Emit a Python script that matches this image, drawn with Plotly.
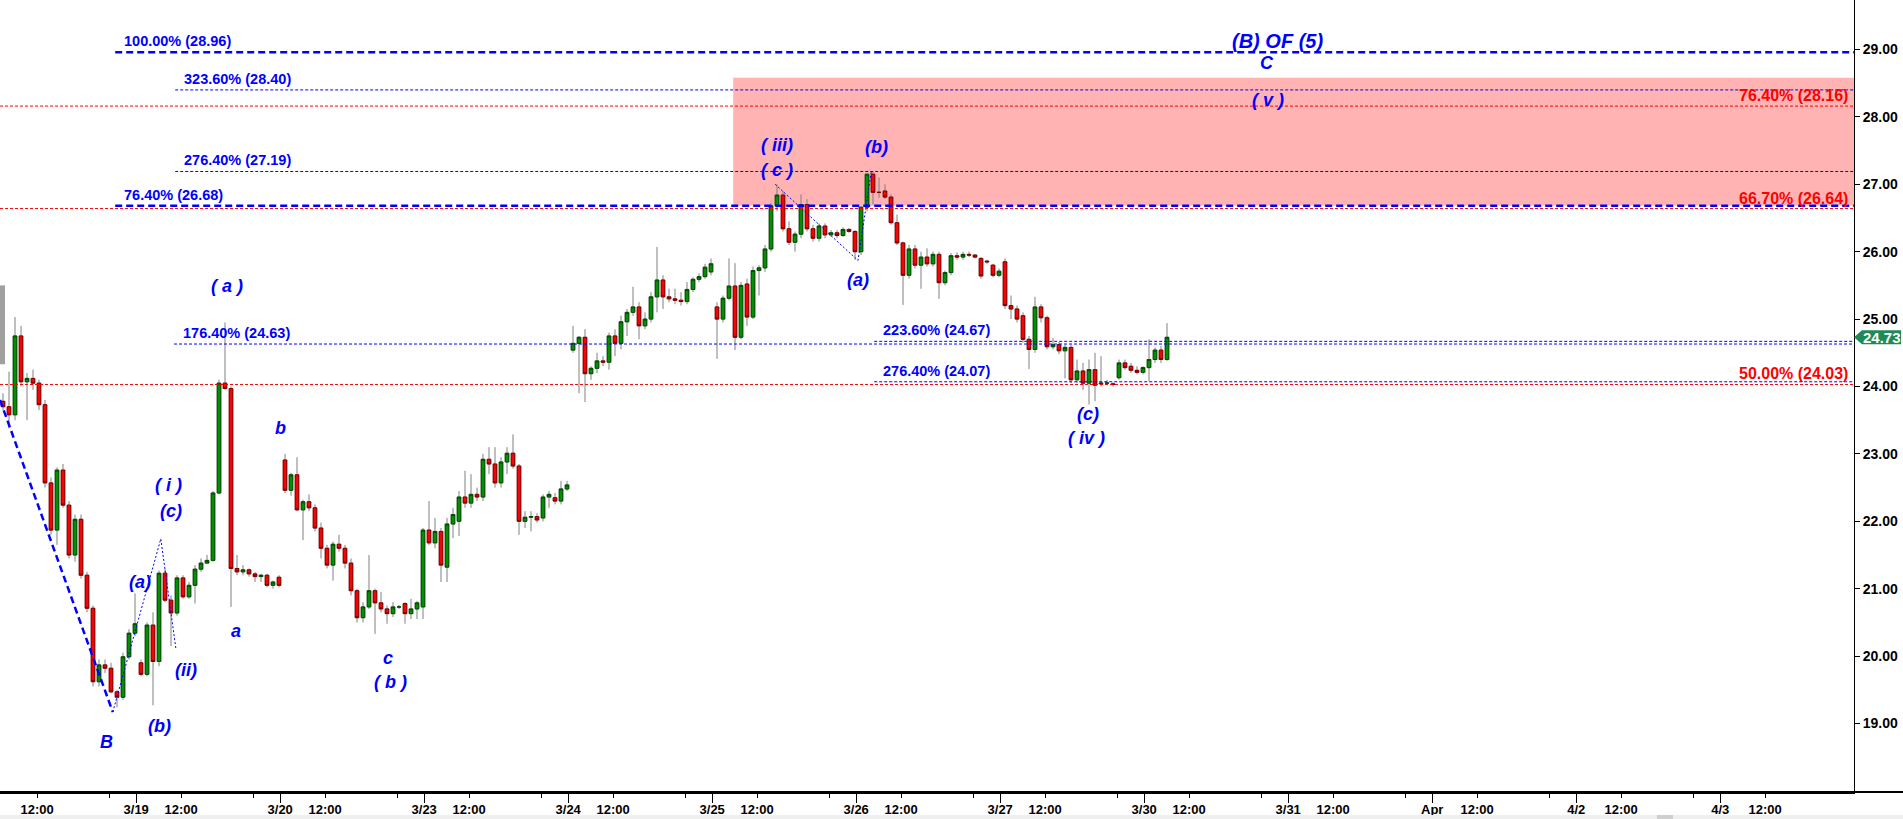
import plotly.graph_objects as go

# ---------------- data (bar index: 24 bars per trading day) ----------------
bar_open = [23.78, 23.70, 23.58, 24.75, 24.07, 24.12, 24.05, 23.73, 22.57, 21.87,
            22.76, 22.24, 21.50, 22.03, 21.20, 20.71, 19.62, 19.87, 19.82, 19.47,
            19.39, 19.99, 20.34, 19.90, 19.73, 20.46, 19.92, 21.23, 20.83, 20.64,
            21.16, 20.88, 21.05, 21.29, 21.38, 21.42, 22.42, 24.05, 23.97, 21.30,
            21.25, 21.28, 21.22, 21.18, 21.20, 21.05, 21.17,
            22.91, 22.46, 22.69, 22.17, 22.29, 22.20, 21.90, 21.60, 21.35, 21.66,
            21.60, 21.38, 20.97, 20.57, 20.73, 20.97, 20.79, 20.70, 20.63, 20.73,
            20.78, 20.63, 20.70, 20.73, 21.87, 21.68, 21.85, 21.32, 21.96, 22.00,
            22.36, 22.27, 22.40, 22.36, 22.92, 22.85, 22.57, 22.88, 23.01, 22.82,
            22.00, 22.06, 22.07, 22.05, 22.36, 22.35, 22.30, 22.48,
            24.54, 24.64, 24.73, 24.19, 24.27, 24.38, 24.36, 24.75, 24.64, 24.96,
            25.10, 25.18, 24.90, 25.00, 25.33, 25.58, 25.33, 25.30, 25.28, 25.26,
            25.44, 25.59, 25.63, 25.70,
            25.18, 25.00, 25.31, 25.49, 24.73, 25.52, 25.03, 25.72, 25.76, 26.04,
            26.68, 26.84, 26.34, 26.14, 26.26, 26.70, 26.34, 26.20, 26.38, 26.25,
            26.28, 26.24, 26.33, 26.30,
            26.00, 26.66, 27.15, 26.88, 26.90, 26.81, 26.43, 26.13, 25.65, 26.04,
            25.80, 25.92, 25.82, 25.96, 25.54, 25.69, 25.94, 25.92, 25.96, 25.95,
            25.90, 25.86, 25.80, 25.65,
            25.85, 25.20, 25.15, 25.05, 24.70, 24.55, 25.18, 25.02, 24.59, 24.62,
            24.53, 24.58, 24.10, 24.23, 24.05, 24.25, 24.04, 24.05, 24.04, 24.13,
            24.35, 24.30, 24.24, 24.21, 24.28, 24.40, 24.54, 24.40]
bar_high = [23.90, 24.22, 25.03, 24.90, 24.20, 24.25, 24.10, 23.80, 22.65, 22.80,
            22.85, 22.30, 22.10, 22.10, 21.25, 20.75, 19.95, 19.95, 19.90, 19.50,
            20.05, 20.40, 20.93, 19.95, 20.50, 20.65, 21.27, 21.30, 20.90, 21.20,
            21.20, 21.10, 21.35, 21.45, 21.50, 22.45, 24.10, 24.95, 24.00, 21.50,
            21.35, 21.30, 21.25, 21.22, 21.22, 21.12, 21.20,
            23.00, 22.72, 22.95, 22.32, 22.40, 22.25, 21.98, 21.65, 21.70, 21.80,
            21.65, 21.45, 21.00, 20.80, 21.50, 21.00, 20.95, 20.75, 20.80, 20.76,
            20.80, 20.85, 20.82, 21.90, 22.30, 22.05, 21.90, 22.05, 22.20, 22.45,
            22.75, 22.70, 22.50, 23.00, 23.10, 23.10, 22.95, 23.10, 23.29, 22.85,
            22.15, 22.15, 22.12, 22.40, 22.45, 22.42, 22.60, 22.60,
            24.90, 24.75, 24.85, 24.30, 24.50, 24.45, 24.80, 24.85, 25.05, 25.15,
            25.48, 25.25, 25.10, 25.40, 26.07, 25.65, 25.45, 25.45, 25.40, 25.55,
            25.62, 25.68, 25.82, 25.90,
            25.25, 25.35, 25.90, 25.83, 25.55, 25.60, 25.78, 25.80, 26.10, 26.72,
            27.00, 26.90, 26.45, 26.30, 26.85, 26.78, 26.40, 26.42, 26.42, 26.32,
            26.32, 26.36, 26.35, 26.32,
            26.68, 27.15, 27.19, 27.10, 27.00, 26.85, 26.55, 26.15, 26.10, 26.10,
            26.00, 26.05, 26.00, 26.00, 25.72, 25.98, 25.99, 26.00, 26.00, 25.96,
            25.92, 25.88, 25.82, 25.75,
            25.90, 25.35, 25.20, 25.10, 24.75, 25.33, 25.22, 25.05, 24.72, 24.66,
            24.62, 24.62, 24.40, 24.35, 24.40, 24.50, 24.45, 24.10, 24.06, 24.40,
            24.40, 24.35, 24.30, 24.30, 24.70, 24.58, 24.60, 24.94]
bar_low = [23.65, 23.38, 23.50, 24.00, 23.50, 23.95, 23.65, 22.50, 21.80, 21.65,
           22.20, 21.45, 21.40, 21.15, 20.65, 19.55, 19.55, 19.75, 19.45, 19.24,
           19.35, 19.95, 20.30, 19.70, 19.70, 19.27, 19.85, 20.80, 20.15, 20.60,
           20.85, 20.85, 20.78, 21.25, 21.38, 21.40, 22.40, 23.95, 20.73, 21.20,
           21.20, 21.18, 21.10, 21.10, 21.02, 21.00, 21.02,
           22.42, 22.38, 22.15, 21.72, 22.15, 21.85, 21.45, 21.30, 21.12, 21.55,
           21.30, 20.90, 20.50, 20.50, 20.70, 20.33, 20.65, 20.48, 20.58, 20.70,
           20.48, 20.55, 20.55, 20.55, 21.65, 21.60, 21.10, 21.10, 21.75, 21.78,
           22.20, 22.20, 22.30, 22.30, 22.70, 22.50, 22.50, 22.70, 22.78, 21.80,
           21.90, 21.85, 21.98, 22.00, 22.20, 22.25, 22.25, 22.45,
           24.50, 23.90, 23.77, 24.10, 24.20, 24.30, 24.25, 24.45, 24.55, 24.75,
           25.05, 24.70, 24.85, 24.95, 25.10, 25.15, 25.25, 25.22, 25.20, 25.22,
           25.40, 25.55, 25.60, 25.65,
           24.41, 24.95, 25.28, 24.54, 24.70, 24.90, 25.00, 25.35, 25.70, 26.00,
           26.60, 26.30, 26.10, 26.00, 26.20, 26.30, 26.15, 26.15, 26.20, 26.22,
           26.20, 26.22, 26.28, 25.88,
           25.95, 26.60, 26.70, 26.80, 26.78, 26.40, 26.10, 25.21, 25.60, 25.75,
           25.45, 25.78, 25.78, 25.30, 25.50, 25.65, 25.88, 25.88, 25.92, 25.90,
           25.60, 25.82, 25.62, 25.62,
           25.15, 25.00, 24.95, 24.65, 24.26, 24.50, 24.95, 24.55, 24.55, 24.48,
           24.12, 24.05, 24.05, 23.95, 23.73, 23.78, 24.00, 24.02, 24.00, 24.10,
           24.25, 24.20, 24.18, 24.18, 24.08, 24.35, 24.35, 24.38]
bar_close = [23.70, 23.58, 24.75, 24.07, 24.12, 24.05, 23.73, 22.57, 21.87, 22.76,
             22.24, 21.50, 22.03, 21.20, 20.71, 19.62, 19.87, 19.82, 19.47, 19.39,
             19.99, 20.34, 20.48, 19.73, 20.46, 19.92, 21.23, 20.83, 20.64, 21.16,
             20.88, 21.05, 21.29, 21.38, 21.42, 22.42, 24.05, 23.97, 21.30, 21.25,
             21.28, 21.22, 21.18, 21.20, 21.05, 21.10, 21.05,
             22.46, 22.69, 22.17, 22.29, 22.20, 21.90, 21.60, 21.35, 21.66, 21.60,
             21.38, 20.97, 20.57, 20.73, 20.97, 20.79, 20.70, 20.63, 20.73, 20.73,
             20.63, 20.70, 20.79, 21.87, 21.68, 21.85, 21.35, 21.96, 22.10, 22.36,
             22.27, 22.40, 22.36, 22.92, 22.85, 22.57, 22.88, 23.01, 22.82, 22.00,
             22.06, 22.07, 22.02, 22.36, 22.40, 22.30, 22.48, 22.54,
             24.64, 24.73, 24.19, 24.27, 24.38, 24.36, 24.75, 24.64, 24.96, 25.10,
             25.18, 24.90, 25.00, 25.33, 25.58, 25.33, 25.30, 25.28, 25.26, 25.44,
             25.59, 25.63, 25.77, 25.82,
             25.00, 25.31, 25.49, 24.73, 25.50, 25.03, 25.72, 25.76, 26.04, 26.68,
             26.84, 26.34, 26.14, 26.26, 26.70, 26.34, 26.20, 26.38, 26.25, 26.28,
             26.24, 26.33, 26.30, 26.00,
             26.66, 27.15, 26.88, 26.88, 26.81, 26.43, 26.13, 25.65, 26.04, 25.80,
             25.92, 25.82, 25.96, 25.54, 25.69, 25.94, 25.92, 25.96, 25.95, 25.92,
             25.64, 25.85, 25.65, 25.71,
             25.20, 25.15, 25.00, 24.70, 24.55, 25.18, 25.02, 24.59, 24.62, 24.53,
             24.58, 24.10, 24.23, 24.05, 24.25, 24.02, 24.05, 24.05, 24.03, 24.35,
             24.28, 24.24, 24.21, 24.28, 24.40, 24.54, 24.40, 24.73]
bar_x = list(range(len(bar_close)))

# x-axis tick labels (positions in bar units)
label_ticks = [5.7, 22.2, 29.7, 46.2, 53.7, 70.2, 77.7, 94.2, 101.7, 118.2, 125.7,
               142.2, 149.7, 166.2, 173.7, 190.2, 197.7, 214.2, 221.7, 238.2, 245.7,
               262.2, 269.7, 286.2, 293.7]
label_text = ["12:00", "3/19", "12:00", "3/20", "12:00", "3/23", "12:00", "3/24", "12:00",
              "3/25", "12:00", "3/26", "12:00", "3/27", "12:00", "3/30", "12:00", "3/31",
              "12:00", "Apr", "12:00", "4/2", "12:00", "4/3", "12:00"]
session_ticks = [17.75, 41.75, 65.75, 89.75, 113.75, 137.75, 161.75, 185.75, 209.75,
                 233.75, 257.75, 281.75]
day_ticks = [22.2, 46.2, 70.2, 94.2, 118.2, 142.2, 166.2, 190.2, 214.2, 238.2, 262.2, 286.2]
price_ticks = [19, 20, 21, 22, 23, 24, 25, 26, 27, 28, 29]

# Fibonacci levels
blue_levels = [28.96, 28.40, 27.19, 26.68, 24.63, 24.67, 24.07]
blue_labels = ["100.00% (28.96)", "323.60% (28.40)", "276.40% (27.19)", "76.40% (26.68)",
               "176.40% (24.63)", "223.60% (24.67)", "276.40% (24.07)"]
blue_start = [18.7, 28.7, 28.7, 18.7, 28.5, 145.2, 145.2]
blue_heavy = [True, False, False, True, False, False, False]
red_levels = [28.16, 26.64, 24.03]
red_labels = ["76.40% (28.16)", "66.70% (26.64)", "50.00% (24.03)"]
zone_start, zone_low, zone_high = 121.7, 26.68, 28.58

# Elliott wave labels
wave_text = ["( a )", "b", "( i )", "(c)", "(a)", "(ii)", "a", "(b)", "B", "c", "( b )",
             "( iii)", "( c )", "(b)", "(a)", "(c)", "( iv )", "(B) OF (5)", "C", "( v )"]
wave_x = [37.3, 46.3, 27.5, 28.0, 22.8, 30.5, 38.8, 26.0, 17.3, 64.2, 64.5,
          129.0, 129.0, 145.5, 142.5, 180.8, 180.5, 212.4, 210.7, 210.8]
wave_y = [25.49, 23.38, 22.54, 22.15, 21.10, 19.79, 20.37, 18.97, 18.72, 19.97, 19.62,
          27.58, 27.21, 27.55, 25.58, 23.59, 23.24, 29.13, 28.80, 28.25]

# wave count lines
wave_b_x, wave_b_y = [-0.5, 18.3], [23.80, 19.17]
wave_i_x, wave_i_y = [18.3, 26.3, 28.8], [19.17, 21.74, 20.12]
wave_iv_x, wave_iv_y = [128.7, 142.5, 144.7], [27.00, 25.87, 27.18]

# ---------------- figure ----------------
X_MIN, X_MAX = -0.5, 308.5
Y_MIN, Y_MAX = 17.984, 29.734
BLUE, RED = "#0000ff", "#ff0000"
FONT = "Liberation Sans, Arial, sans-serif"

fig = go.Figure()

# wicks (grey)
fig.add_trace(go.Candlestick(
    x=bar_x, open=bar_open, high=bar_high, low=bar_low, close=bar_close,
    increasing=dict(line=dict(color="#808080", width=1), fillcolor="#808080"),
    decreasing=dict(line=dict(color="#808080", width=1), fillcolor="#808080"),
    whiskerwidth=0, hoverinfo="skip", showlegend=False))
# bodies
body_hi = [max(o, c) for o, c in zip(bar_open, bar_close)]
body_lo = [min(o, c) for o, c in zip(bar_open, bar_close)]
fig.add_trace(go.Candlestick(
    x=bar_x, open=bar_open, high=body_hi, low=body_lo, close=bar_close,
    increasing=dict(line=dict(color="#004d00", width=1), fillcolor="#009000"),
    decreasing=dict(line=dict(color="#800000", width=1), fillcolor="#ff0000"),
    whiskerwidth=0, hoverinfo="skip", showlegend=False))

# wave lines
fig.add_trace(go.Scatter(x=wave_b_x, y=wave_b_y, mode="lines", hoverinfo="skip",
                         line=dict(color=BLUE, width=2.5, dash="7px,4px"), showlegend=False))
for xs, ys in [(wave_i_x, wave_i_y), (wave_iv_x, wave_iv_y)]:
    fig.add_trace(go.Scatter(x=xs, y=ys, mode="lines", hoverinfo="skip",
                             line=dict(color=BLUE, width=1, dash="2px,2px"), showlegend=False))

shapes = []
# pink zone
shapes.append(dict(type="rect", xref="x", yref="y", x0=zone_start, x1=X_MAX,
                   y0=zone_low, y1=zone_high, fillcolor="#ffb3b3", line=dict(width=0),
                   layer="below"))
annotations = []
for lvl, txt in zip(red_levels, red_labels):
    shapes.append(dict(type="line", xref="x", yref="y", x0=X_MIN, x1=X_MAX, y0=lvl, y1=lvl,
                       line=dict(color=RED, width=1, dash="3px,2px")))
    annotations.append(dict(x=307.8, y=lvl, xref="x", yref="y", text=txt, showarrow=False,
                            xanchor="right", yanchor="bottom", yshift=0,
                            font=dict(family=FONT, size=16, color=RED, weight="bold")))
for lvl, txt, x0, heavy in zip(blue_levels, blue_labels, blue_start, blue_heavy):
    if heavy:
        ln = dict(color=BLUE, width=2.5, dash="7px,4px")
    else:
        ln = dict(color=BLUE, width=1, dash="3px,2px")
    shapes.append(dict(type="line", xref="x", yref="y", x0=x0, x1=X_MAX, y0=lvl, y1=lvl, line=ln))
    annotations.append(dict(x=x0 + 1.1, y=lvl, xref="x", yref="y", text=txt, showarrow=False,
                            xanchor="left", yanchor="bottom", yshift=1,
                            font=dict(family=FONT, size=14.5, color=BLUE, weight="bold")))

for t, x, y in zip(wave_text, wave_x, wave_y):
    size = 20 if t == "(B) OF (5)" else 18
    annotations.append(dict(x=x, y=y, xref="x", yref="y", text=t, showarrow=False,
                            xanchor="center", yanchor="middle",
                            font=dict(family=FONT, size=size, color=BLUE,
                                      weight="bold", style="italic")))

# last price tag
last = bar_close[-1]
tip, bx0, bx1 = 1.0, 1.0043, 1.0254
top, bot = last + 0.105, last - 0.105
shapes.append(dict(type="path", xref="paper", yref="y",
                   path=f"M {tip},{last} L {bx0},{top} L {bx1},{top} L {bx1},{bot} L {bx0},{bot} Z",
                   fillcolor="#1f8a55", line=dict(width=0)))
annotations.append(dict(x=(bx0 + bx1) / 2, y=last, xref="paper", yref="y", text=f"{last:.2f}",
                        showarrow=False, xanchor="center", yanchor="middle",
                        font=dict(family=FONT, size=15, color="white", weight="bold")))

# x axis baseline extended across full width, scrollbar strip, side tab
shapes.append(dict(type="line", xref="paper", yref="paper", x0=0, x1=1.027, y0=0, y1=0,
                   line=dict(color="black", width=2)))
shapes.append(dict(type="rect", xref="paper", yref="paper", x0=0, x1=1.027, y0=-0.034, y1=-0.029,
                   fillcolor="#efefef", line=dict(width=0)))
shapes.append(dict(type="rect", xref="paper", yref="paper", x0=0.8937, x1=0.9024, y0=-0.034,
                   y1=-0.029, fillcolor="#cfcfcf", line=dict(width=0)))
shapes.append(dict(type="rect", xref="paper", yref="y", x0=0, x1=0.0027, y0=24.33, y1=25.50,
                   fillcolor="#a0a0a0", line=dict(width=0)))

fig.update_layout(
    width=1903, height=819, autosize=False,
    margin=dict(l=0, r=49, t=0, b=27, pad=0),
    paper_bgcolor="white", plot_bgcolor="white",
    font=dict(family=FONT, color="black"),
    boxgap=0.15,
    shapes=shapes, annotations=annotations, showlegend=False,
    xaxis=dict(range=[X_MIN, X_MAX], showgrid=False, zeroline=False,
               rangeslider=dict(visible=False),
               tickmode="array",
               tickvals=label_ticks + session_ticks,
               ticktext=label_text + [""] * len(session_ticks),
               ticks="outside", ticklen=4, tickcolor="black", tickwidth=1,
               minor=dict(tickmode="array", tickvals=day_ticks, ticks="outside",
                          ticklen=9, tickcolor="black", tickwidth=1, showgrid=False),
               tickfont=dict(family=FONT, size=13, color="black", weight="bold"),
               showline=True, linecolor="black", linewidth=2, fixedrange=True),
    yaxis=dict(range=[Y_MIN, Y_MAX], side="right", showgrid=False, zeroline=False,
               tickmode="array", tickvals=price_ticks,
               ticktext=[f"{v:.2f}" for v in price_ticks],
               ticks="outside", ticklen=5, tickcolor="black",
               tickfont=dict(family=FONT, size=14, color="black", weight="bold"),
               showline=True, linecolor="black", linewidth=1, fixedrange=True),
)

fig.write_html("out.html", config={"displayModeBar": False},
               post_script="document.body.style.margin='0';document.body.style.overflow='hidden';")
